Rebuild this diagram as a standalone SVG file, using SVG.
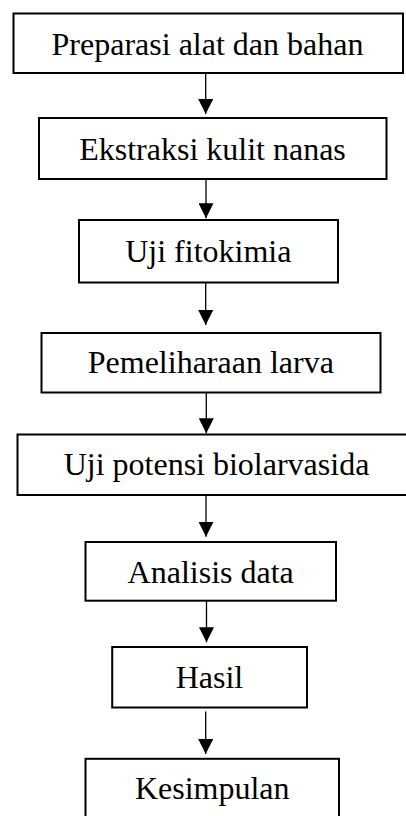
<svg xmlns="http://www.w3.org/2000/svg" width="406" height="816" viewBox="0 0 406 816">
  <style>
    .box { fill: #ffffff; stroke: #000000; stroke-width: 2; }
    .lbl { font-family: "Liberation Serif", "Times New Roman", serif; font-size: 32px; fill: #000000; text-anchor: middle; }
    .arrow { stroke: #000000; stroke-width: 1.3; fill: none; marker-end: url(#head); }
  </style>
  <defs>
    <marker id="head" viewBox="0 0 15 15" refX="15" refY="7.5" markerWidth="15" markerHeight="15" markerUnits="userSpaceOnUse" orient="auto">
      <path d="M0,0 L15,7.5 L0,15 z" fill="#000000"/>
    </marker>
  </defs>
  <rect width="406" height="816" fill="#ffffff"/>

  <g id="connectors">
    <line class="arrow" x1="205.7" y1="73" x2="205.7" y2="114"/>
    <line class="arrow" x1="206" y1="179" x2="206" y2="218.3"/>
    <line class="arrow" x1="205.7" y1="282.5" x2="205.7" y2="325"/>
    <line class="arrow" x1="206.3" y1="393" x2="206.3" y2="433.3"/>
    <line class="arrow" x1="206" y1="495" x2="206" y2="536.7"/>
    <line class="arrow" x1="206.5" y1="601" x2="206.5" y2="642.3"/>
    <line class="arrow" x1="205.7" y1="711.5" x2="205.7" y2="754"/>
  </g>

  <g id="n1">
    <rect class="box" x="13.5" y="13.5" width="389.5" height="59.5"/>
    <text class="lbl" x="207.5" y="55">Preparasi alat dan bahan</text>
  </g>
  <g id="n2">
    <rect class="box" x="39" y="118" width="347.5" height="61"/>
    <text class="lbl" x="212.5" y="160">Ekstraksi kulit nanas</text>
  </g>
  <g id="n3">
    <rect class="box" x="79" y="220" width="259" height="62.5"/>
    <text class="lbl" x="208.3" y="261.5">Uji fitokimia</text>
  </g>
  <g id="n4">
    <rect class="box" x="41.5" y="333" width="339" height="59.5"/>
    <text class="lbl" x="210.8" y="373.3">Pemeliharaan larva</text>
  </g>
  <g id="n5">
    <rect class="box" x="17.5" y="434.5" width="400" height="60.5"/>
    <text class="lbl" x="216.5" y="475">Uji potensi biolarvasida</text>
  </g>
  <g id="n6">
    <rect class="box" x="85.5" y="542" width="250.5" height="58.7"/>
    <text class="lbl" x="210.7" y="583.3">Analisis data</text>
  </g>
  <g id="n7">
    <rect class="box" x="112.2" y="647" width="194.8" height="60.5"/>
    <text class="lbl" x="209.4" y="687.7">Hasil</text>
  </g>
  <g id="n8">
    <rect class="box" x="85.5" y="758.8" width="253.5" height="62"/>
    <text class="lbl" x="212.2" y="799.3">Kesimpulan</text>
  </g>
</svg>
